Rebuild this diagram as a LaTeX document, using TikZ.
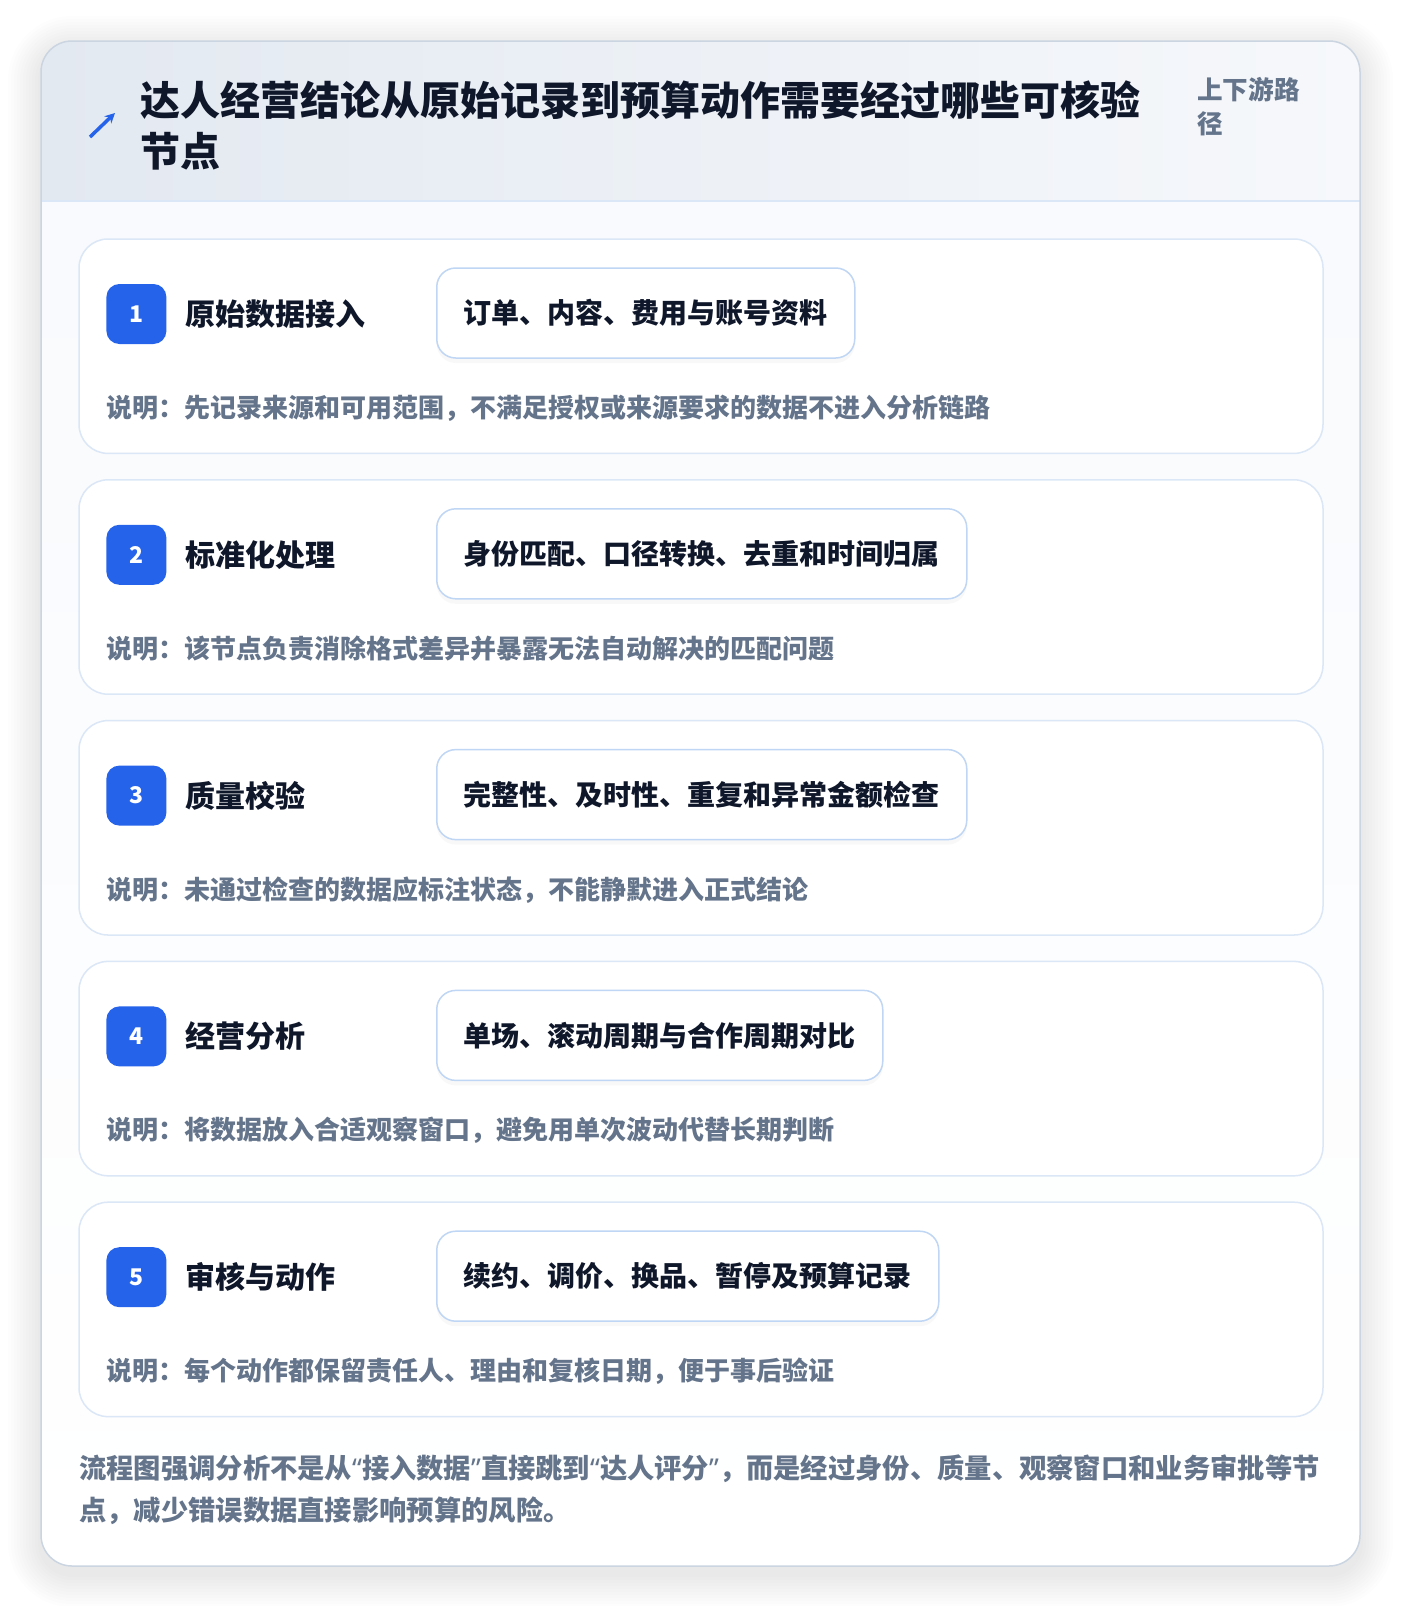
\documentclass[tikz,border=0pt]{standalone}
\usepackage{fontspec}
\setmainfont{Noto Sans CJK SC}
\newfontfamily\latinfont{Noto Sans}
\usetikzlibrary{arrows.meta, positioning, shadows}
\definecolor{accent}{HTML}{2563EB}
\definecolor{ink}{HTML}{0F172A}
\definecolor{muted}{HTML}{64748B}
\definecolor{cardline}{HTML}{DBE7F6}
\definecolor{tagline}{HTML}{BFD6F4}
\definecolor{frame}{HTML}{CBD5E1}
\definecolor{headL}{HTML}{E3E9F1}
\definecolor{headR}{HTML}{F6F8FB}
\definecolor{bodybg}{HTML}{F8FAFD}
\newcommand{\latq}[1]{{\latinfont #1}}

\begin{document}
\begin{tikzpicture}[x=1pt, y=-1pt,
  card/.style={draw=cardline, line width=1.5, fill=white, rounded corners=29},
  badge/.style={fill=accent, rounded corners=13, minimum size=60, inner sep=0, text=white, font=\fontsize{23}{23}\selectfont\bfseries},
  steptitle/.style={text=ink, font=\fontsize{30}{30}\selectfont\bfseries, inner sep=0, anchor=west},
  tagbox/.style={draw=tagline, line width=1.5, fill=white, rounded corners=19, minimum height=90, inner xsep=27, text=ink, font=\fontsize{28}{28}\selectfont\bfseries, anchor=west, drop shadow={opacity=0.05, shadow xshift=0pt, shadow yshift=-5pt}},
  note/.style={text=muted, font=\fontsize{26}{26}\selectfont\bfseries, inner sep=0, anchor=west},
]
\useasboundingbox (0,0) rectangle (1400,1606);
\fill[white] (0,0) rectangle (1400,1606);

% Draw outer shadow
\foreach \s in {3,6,...,33}
  \fill[black, opacity=0.008, rounded corners=31+\s] (41-\s,41-\s+8) rectangle (1360+\s,1566+\s+8);

% Draw frame and header
\begin{scope}
  \clip[rounded corners=31] (41,41) rectangle (1360,1566);
  \shade[top color=bodybg, bottom color=white] (41,201) rectangle (1360,1566);
  \shade[left color=headL, right color=headR] (41,41) rectangle (1360,201);
\end{scope}
\draw[cardline, line width=1.5] (41,201) -- (1360,201);
\draw[frame, line width=1.5, rounded corners=31] (41,41) rectangle (1360,1566);

% Draw title
\draw[accent, line width=3.5, -{Stealth[length=10, width=10]}] (90,137) -- (115,113);
\node[text=ink, font=\fontsize{40}{51}\selectfont\bfseries, align=left, inner sep=0, anchor=west] (title) at (140,125) {达人经营结论从原始记录到预算动作需要经过哪些可核验\\节点};
\node[text=muted, font=\fontsize{25.6}{34}\selectfont\bfseries, align=left, inner sep=0, anchor=west] (scope) at (1197,107) {上下游路\\径};

% Draw steps
\foreach \n/\stepname/\tagtext/\notetext in {
  1/原始数据接入/订单、内容、费用与账号资料/说明：先记录来源和可用范围，不满足授权或来源要求的数据不进入分析链路,
  2/标准化处理/身份匹配、口径转换、去重和时间归属/说明：该节点负责消除格式差异并暴露无法自动解决的匹配问题,
  3/质量校验/完整性、及时性、重复和异常金额检查/说明：未通过检查的数据应标注状态，不能静默进入正式结论,
  4/经营分析/单场、滚动周期与合作周期对比/说明：将数据放入合适观察窗口，避免用单次波动代替长期判断,
  5/审核与动作/续约、调价、换品、暂停及预算记录/说明：每个动作都保留责任人、理由和复核日期，便于事后验证}
{
  \pgfmathsetmacro{\cardtop}{239+(\n-1)*240.8}
  \draw[card] (79,\cardtop) rectangle (1323,\cardtop+214.4);
  \node[badge] (badge\n) at (136.4,\cardtop+75) {\n};
  \node[steptitle, right=18.5 of badge\n] (step\n) {\stepname};
  \node[tagbox] (tag\n) at (436,\cardtop+74) {\tagtext};
  \node[note] (note\n) at (106.7,\cardtop+169.2) {\notetext};
}

% Draw footer
\node[text=muted, font=\fontsize{27.3}{42}\selectfont\bfseries, align=left, inner sep=0, anchor=west] (footer) at (79,1490) {流程图强调分析不是从\latq{“}接入数据\latq{”}直接跳到\latq{“}达人评分\latq{”}，而是经过身份、质量、观察窗口和业务审批等节\\点，减少错误数据直接影响预算的风险。};
\end{tikzpicture}
\end{document}
